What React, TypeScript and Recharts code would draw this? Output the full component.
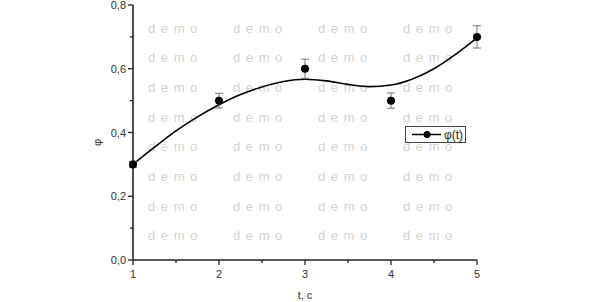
import {
  ComposedChart,
  Line,
  Scatter,
  ErrorBar,
  XAxis,
  YAxis,
  Legend,
} from 'recharts';

// measured points
const T_POINTS = [1, 2, 3, 4, 5];
const PHI_POINTS = [0.3, 0.5, 0.6, 0.5, 0.7];
const PHI_ERR = [0.01, 0.023, 0.03, 0.024, 0.035];

// fitted curve
const T_FIT = [1, 1.25, 1.5, 1.75, 2, 2.25, 2.5, 2.75, 3, 3.25, 3.5, 3.75, 4, 4.25, 4.5, 4.75, 5];
const PHI_FIT = [
  0.3, 0.354, 0.405, 0.449, 0.487, 0.519, 0.543, 0.56, 0.567, 0.562, 0.551, 0.544, 0.549,
  0.568, 0.6, 0.645, 0.697,
];

const X_TICKS = [1, 1.5, 2, 2.5, 3, 3.5, 4, 4.5, 5];
const Y_TICKS = [0, 0.1, 0.2, 0.3, 0.4, 0.5, 0.6, 0.7, 0.8];

const WATERMARK = 'd e m o';
const WM_COLS = 4;
const WM_ROWS = 8;

const points = T_POINTS.map((t, i) => ({ t, phi: PHI_POINTS[i], err: PHI_ERR[i] }));
const fit = T_FIT.map((t, i) => ({ t, phi: PHI_FIT[i] }));

const FONT = '"Liberation Sans", Arial, sans-serif';
const AXIS = '#222';

function XTick({ x, y, payload }: any) {
  const major = Number.isInteger(payload.value);
  return (
    <g>
      <line x1={x} x2={x} y1={y} y2={y + (major ? 5 : 3)} stroke={AXIS} strokeWidth={1.3} />
      {major && (
        <text x={x} y={y + 18} textAnchor="middle" fill="#333" fontSize={11} fontFamily={FONT}>
          {payload.value}
        </text>
      )}
    </g>
  );
}

function YTick({ x, y, payload }: any) {
  const major = Math.round(payload.value * 10) % 2 === 0;
  return (
    <g>
      <line x1={x - (major ? 5 : 3)} x2={x} y1={y} y2={y} stroke={AXIS} strokeWidth={1.3} />
      {major && (
        <text x={x - 7} y={y + 4} textAnchor="end" fill="#333" fontSize={11} fontFamily={FONT}>
          {payload.value.toFixed(1).replace('.', ',')}
        </text>
      )}
    </g>
  );
}

function XLabel({ viewBox }: any) {
  return (
    <text
      x={viewBox.x + viewBox.width / 2}
      y={viewBox.y + 39}
      textAnchor="middle"
      fill="#333"
      fontSize={11}
      fontFamily={FONT}
    >
      t, c
    </text>
  );
}

function YLabel({ viewBox }: any) {
  const cx = viewBox.x + 24;
  const cy = viewBox.y + viewBox.height / 2 + 10;
  return (
    <text
      x={cx}
      y={cy}
      transform={`rotate(-90 ${cx} ${cy})`}
      textAnchor="middle"
      dominantBaseline="central"
      fill="#333"
      fontSize={11}
      fontFamily={FONT}
    >
      φ
    </text>
  );
}

function LegendBox() {
  return (
    <div
      style={{
        display: 'flex',
        alignItems: 'center',
        border: '1px solid #444',
        background: '#fff',
        height: 15,
        width: 59,
        boxSizing: 'content-box',
      }}
    >
      <svg width={38} height={15}>
        <line x1={6} x2={35} y1={7.5} y2={7.5} stroke="#000" strokeWidth={1.5} />
        <circle cx={21} cy={7.5} r={3.5} fill="#000" />
      </svg>
      <span style={{ fontFamily: FONT, fontSize: 12, color: '#222' }}>φ(t)</span>
    </div>
  );
}

function Watermark() {
  const cells = [];
  for (let r = 0; r < WM_ROWS; r++) {
    for (let c = 0; c < WM_COLS; c++) {
      cells.push(
        <text
          key={`${r}-${c}`}
          x={148 + c * 85}
          y={28 + r * 29.7}
          dominantBaseline="central"
          fill="#d2d2d2"
          fontSize={13}
          fontFamily={FONT}
          letterSpacing={1}
        >
          {WATERMARK}
        </text>
      );
    }
  }
  return (
    <svg width={591} height={302} style={{ position: 'absolute', left: 0, top: 0 }}>
      {cells}
    </svg>
  );
}

export default function App() {
  return (
    <div style={{ position: 'absolute', left: 0, top: 0, width: 591, height: 302, background: '#fff' }}>
      <Watermark />
      <ComposedChart
        width={591}
        height={302}
        margin={{ top: 5, right: 114, left: 73, bottom: 0 }}
        style={{ position: 'absolute', left: 0, top: 0 }}
      >
        <XAxis
          dataKey="t"
          type="number"
          domain={[1, 5]}
          ticks={X_TICKS}
          interval={0}
          height={42}
          tickSize={0}
          tickMargin={0}
          tickLine={false}
          axisLine={{ stroke: AXIS, strokeWidth: 1.6 }}
          tick={<XTick />}
          label={<XLabel />}
        />
        <YAxis
          dataKey="phi"
          type="number"
          domain={[0, 0.8]}
          ticks={Y_TICKS}
          interval={0}
          width={60}
          tickSize={0}
          tickMargin={0}
          tickLine={false}
          axisLine={{ stroke: AXIS, strokeWidth: 1.6 }}
          tick={<YTick />}
          label={<YLabel />}
        />
        <Legend
          layout="vertical"
          align="center"
          verticalAlign="middle"
          wrapperStyle={{ left: 405, top: 126, width: 'auto' }}
          content={() => <LegendBox />}
        />
        <Line
          data={fit}
          dataKey="phi"
          type="monotone"
          stroke="#000"
          strokeWidth={1.6}
          dot={false}
          activeDot={false}
          isAnimationActive={false}
          legendType="none"
        />
        <Scatter
          data={points}
          dataKey="phi"
          fill="#000"
          shape={(p: any) => <circle cx={p.cx} cy={p.cy} r={4} fill="#000" />}
          isAnimationActive={false}
          name="φ(t)"
        >
          <ErrorBar dataKey="err" direction="y" width={4} stroke="#777" strokeWidth={1} />
        </Scatter>
      </ComposedChart>
    </div>
  );
}
